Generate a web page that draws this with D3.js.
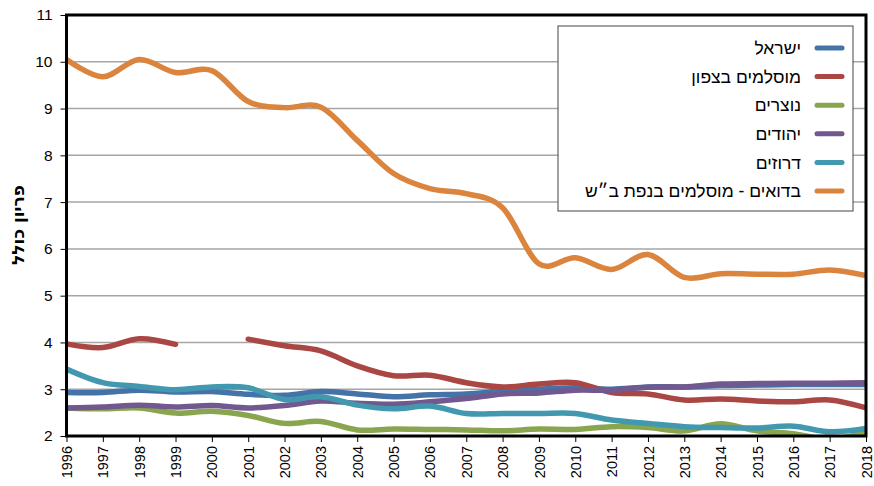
<!DOCTYPE html>
<html>
<head>
<meta charset="utf-8">
<script src="https://cdn.jsdelivr.net/npm/d3@7"></script>
<style>
  body { margin: 0; background: #fff; }
  svg { display: block; }
</style>
</head>
<body>
<svg id="chart"></svg>
<script>
const years = d3.range(1996, 2019);

const seriesNames = ["ישראל", "מוסלמים בצפון", "נוצרים", "יהודים", "דרוזים", "בדואים - מוסלמים בנפת ב״ש"];
const seriesColors = ["#4572A7", "#AA4643", "#89A54E", "#71588F", "#4198AF", "#DB843D"];

const israel = [2.93, 2.93, 2.98, 2.94, 2.95, 2.89, 2.87, 2.95, 2.90, 2.84, 2.88, 2.90, 2.96, 3.00, 3.03, 3.00, 3.05, 3.05, 3.08, 3.09, 3.10, 3.10, 3.10];
const muslimsNorth = [3.97, 3.89, 4.08, 3.96, null, 4.07, 3.93, 3.82, 3.50, 3.29, 3.30, 3.14, 3.05, 3.11, 3.14, 2.93, 2.90, 2.77, 2.79, 2.75, 2.73, 2.77, 2.60];
const christians = [2.60, 2.58, 2.60, 2.49, 2.53, 2.44, 2.27, 2.31, 2.13, 2.15, 2.14, 2.13, 2.11, 2.15, 2.14, 2.20, 2.18, 2.11, 2.26, 2.11, 2.05, 1.93, 2.09];
const jews = [2.60, 2.62, 2.66, 2.62, 2.65, 2.60, 2.65, 2.75, 2.70, 2.68, 2.73, 2.80, 2.90, 2.92, 2.98, 2.98, 3.04, 3.05, 3.11, 3.12, 3.13, 3.13, 3.14];
const druze = [3.43, 3.14, 3.06, 2.99, 3.05, 3.03, 2.78, 2.84, 2.66, 2.58, 2.64, 2.48, 2.48, 2.48, 2.48, 2.34, 2.27, 2.20, 2.18, 2.17, 2.21, 2.09, 2.16];
const bedouins = [10.05, 9.68, 10.05, 9.77, 9.81, 9.15, 9.02, 9.03, 8.32, 7.61, 7.29, 7.18, 6.88, 5.68, 5.81, 5.56, 5.88, 5.39, 5.47, 5.46, 5.46, 5.55, 5.43];

const yTicks = [2, 3, 4, 5, 6, 7, 8, 9, 10, 11];
const yTitle = "פריון כולל";

const seriesValues = [israel, muslimsNorth, christians, jews, druze, bedouins];

const width = 874, height = 486;
const margin = {top: 15, right: 8, bottom: 50, left: 66.5};

const svg = d3.select("#chart")
    .attr("width", width)
    .attr("height", height)
    .style("font-family", "'DejaVu Sans', sans-serif");

const x = d3.scaleLinear()
    .domain([1996, 2018])
    .range([margin.left, width - margin.right]);

const y = d3.scaleLinear()
    .domain([2, 11])
    .range([height - margin.bottom, margin.top]);

svg.append("defs").append("clipPath")
    .attr("id", "plot-clip")
    .append("rect")
    .attr("x", x(1996))
    .attr("y", y(11))
    .attr("width", x(2018) - x(1996))
    .attr("height", y(2) - y(11));

// gridlines
svg.append("g")
    .selectAll("line")
    .data(yTicks.filter(d => d > 2 && d < 11))
    .join("line")
    .attr("x1", x(1996))
    .attr("x2", x(2018))
    .attr("y1", d => y(d))
    .attr("y2", d => y(d))
    .attr("stroke", "#a6a6a6")
    .attr("stroke-width", 1.5);

// y axis
const yAxis = svg.append("g")
    .attr("transform", `translate(${x(1996)},0)`)
    .call(d3.axisLeft(y).tickValues(yTicks).tickFormat(d3.format("d")).tickSize(6).tickPadding(8));
yAxis.select(".domain").remove();
yAxis.selectAll(".tick line").attr("stroke", "#000");
yAxis.selectAll("text").style("font-size", "15.5px").attr("fill", "#000");

// x axis
const xAxis = svg.append("g")
    .attr("transform", `translate(0,${y(2)})`)
    .call(d3.axisBottom(x).tickValues(years).tickFormat(d3.format("d")).tickSize(6));
xAxis.select(".domain").remove();
xAxis.selectAll(".tick line").attr("stroke", "#000");
xAxis.selectAll("text")
    .style("font-size", "14.5px")
    .attr("fill", "#000")
    .attr("text-anchor", "end")
    .attr("dy", "0.35em")
    .attr("transform", "rotate(-90)")
    .attr("x", -10)
    .attr("y", 0);

// series lines
const line = d3.line()
    .defined(d => d.v != null)
    .x(d => x(d.year))
    .y(d => y(d.v))
    .curve(d3.curveCardinal.tension(0));

svg.append("g")
    .attr("clip-path", "url(#plot-clip)")
    .selectAll("path")
    .data(seriesValues)
    .join("path")
    .attr("d", vals => line(vals.map((v, i) => ({year: years[i], v}))))
    .attr("fill", "none")
    .attr("stroke", (d, i) => seriesColors[i])
    .attr("stroke-width", 5.5)
    .attr("stroke-linecap", "round")
    .attr("stroke-linejoin", "round");

// frame
svg.append("rect")
    .attr("x", x(1996))
    .attr("y", y(11))
    .attr("width", x(2018) - x(1996))
    .attr("height", y(2) - y(11))
    .attr("fill", "none")
    .attr("stroke", "#000")
    .attr("stroke-width", 3);

// y title
svg.append("text")
    .attr("transform", `translate(18,225) rotate(-90)`)
    .attr("text-anchor", "middle")
    .attr("dy", "0.35em")
    .style("font-size", "17px")
    .style("font-weight", "bold")
    .text(yTitle);

// legend
const legend = svg.append("g").attr("transform", "translate(558,26)");
legend.append("rect")
    .attr("width", 295)
    .attr("height", 185)
    .attr("fill", "#fff")
    .attr("stroke", "#444")
    .attr("stroke-width", 1);

const legendItem = legend.selectAll("g.item")
    .data(seriesNames)
    .join("g")
    .attr("class", "item")
    .attr("transform", (d, i) => `translate(0,${22 + i * 28.6})`);

legendItem.append("line")
    .attr("x1", 259)
    .attr("x2", 284)
    .attr("stroke", (d, i) => seriesColors[i])
    .attr("stroke-width", 5)
    .attr("stroke-linecap", "round");

legendItem.append("text")
    .attr("x", 243)
    .attr("dy", "0.35em")
    .attr("text-anchor", "end")
    .style("font-family", "'Liberation Sans', Arial, sans-serif")
    .style("font-size", "17.5px")
    .attr("fill", "#000")
    .text(d => d);
</script>
</body>
</html>
